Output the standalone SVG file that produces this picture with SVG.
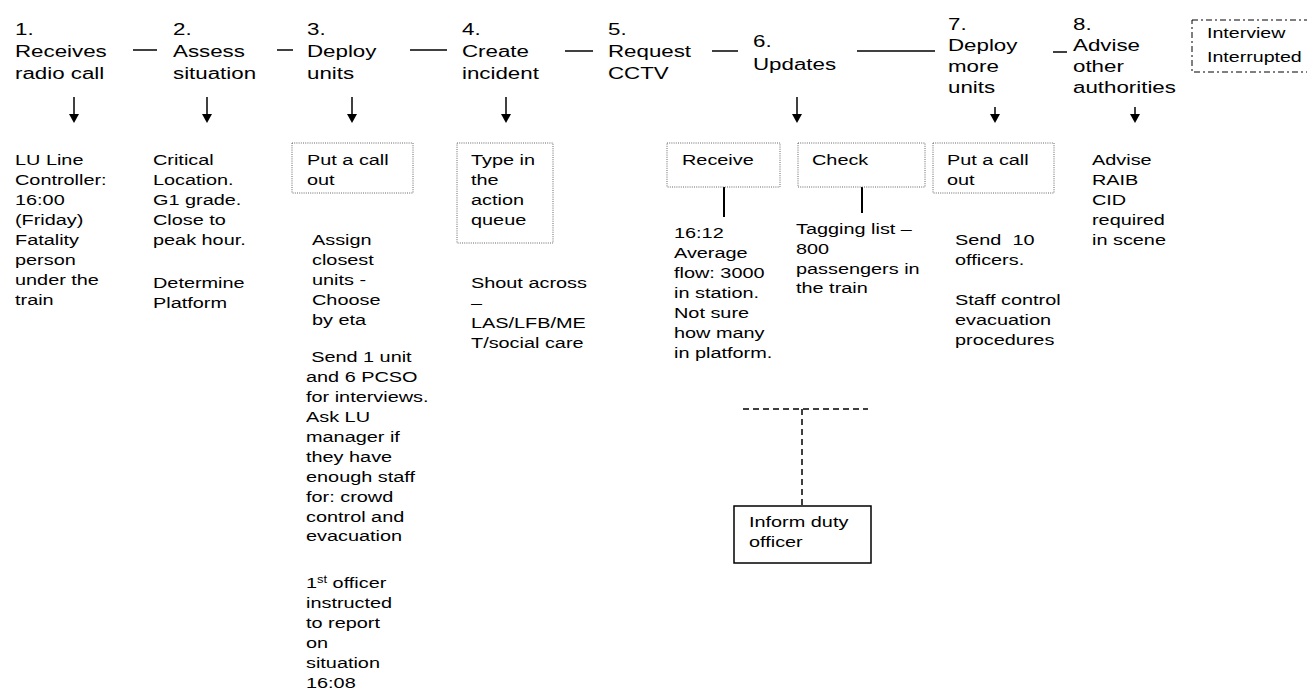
<svg xmlns="http://www.w3.org/2000/svg" width="1307" height="695" viewBox="0 0 1307 695">
<style>
text{font-family:"Liberation Sans",Arial,sans-serif;fill:#000}
.h{font-size:17.3px}
.b{font-size:15.4px}
.s{font-size:15.2px}
.dot{fill:none;stroke:#666;stroke-width:1;stroke-dasharray:1 1.2}
.con{stroke:#000;stroke-width:1.5;fill:none}
.dash{stroke:#000;stroke-width:1.5;fill:none;stroke-dasharray:6 4}
</style>
<rect width="1307" height="695" fill="#fff"/>

<g id="connectors">
<line class="con" x1="133" y1="50" x2="157" y2="50"/>
<line class="con" x1="277" y1="50" x2="293" y2="50"/>
<line class="con" x1="410" y1="50" x2="447" y2="50"/>
<line class="con" x1="565" y1="51" x2="593" y2="51"/>
<line class="con" x1="712" y1="51" x2="738" y2="51"/>
<line class="con" x1="857" y1="51" x2="935" y2="51"/>
<line class="con" x1="1053" y1="52" x2="1067" y2="52"/>
<g stroke="#000" stroke-width="1.5">
<line x1="74" y1="97" x2="74" y2="115"/>
<line x1="207" y1="97" x2="207" y2="115"/>
<line x1="352" y1="97" x2="352" y2="115"/>
<line x1="506" y1="97" x2="506" y2="115"/>
<line x1="797" y1="97" x2="797" y2="115"/>
<line x1="995" y1="107" x2="995" y2="115"/>
<line x1="1135" y1="107" x2="1135" y2="115"/>
</g>
<g fill="#000">
<path d="M69,114 L79,114 L74,123 Z"/>
<path d="M202,114 L212,114 L207,123 Z"/>
<path d="M347,114 L357,114 L352,123 Z"/>
<path d="M501,114 L511,114 L506,123 Z"/>
<path d="M792,114 L802,114 L797,123 Z"/>
<path d="M990,114 L1000,114 L995,123 Z"/>
<path d="M1130,114 L1140,114 L1135,123 Z"/>
</g>
<line x1="724" y1="187" x2="724" y2="217" stroke="#000" stroke-width="2"/>
<line x1="862" y1="187" x2="862" y2="213" stroke="#000" stroke-width="2"/>
<path class="dash" d="M743,409 H868 M802,409 V506"/>
</g>

<g id="n1">
<text class="h" transform="translate(15,0) scale(1.29,1)"><tspan x="0" y="35">1.</tspan><tspan x="0" y="57">Receives</tspan><tspan x="0" y="79">radio call</tspan></text>
<text class="b" transform="translate(15,0) scale(1.29,1)"><tspan x="0" y="165">LU Line</tspan><tspan x="0" y="185">Controller:</tspan><tspan x="0" y="205">16:00</tspan><tspan x="0" y="225">(Friday)</tspan><tspan x="0" y="245">Fatality</tspan><tspan x="0" y="265">person</tspan><tspan x="0" y="285">under the</tspan><tspan x="0" y="305">train</tspan></text>
</g>

<g id="n2">
<text class="h" transform="translate(173,0) scale(1.29,1)"><tspan x="0" y="35">2.</tspan><tspan x="0" y="57">Assess</tspan><tspan x="0" y="79">situation</tspan></text>
<text class="b" transform="translate(153,0) scale(1.29,1)"><tspan x="0" y="165">Critical</tspan><tspan x="0" y="185">Location.</tspan><tspan x="0" y="205">G1 grade.</tspan><tspan x="0" y="225">Close to</tspan><tspan x="0" y="245">peak hour.</tspan><tspan x="0" y="288">Determine</tspan><tspan x="0" y="308">Platform</tspan></text>
</g>

<g id="n3">
<text class="h" transform="translate(307,0) scale(1.29,1)"><tspan x="0" y="35">3.</tspan><tspan x="0" y="57">Deploy</tspan><tspan x="0" y="79">units</tspan></text>
<rect class="dot" x="292" y="143" width="121" height="50"/>
<text class="b" transform="translate(307,0) scale(1.29,1)"><tspan x="0" y="165">Put a call</tspan><tspan x="0" y="185">out</tspan></text>
<text class="b" transform="translate(312,0) scale(1.29,1)"><tspan x="0" y="245">Assign</tspan><tspan x="0" y="265">closest</tspan><tspan x="0" y="285">units -</tspan><tspan x="0" y="305">Choose</tspan><tspan x="0" y="325">by eta</tspan></text>
<text class="b" transform="translate(306,0) scale(1.29,1)"><tspan x="4" y="362">Send 1 unit</tspan><tspan x="0" y="382">and 6 PCSO</tspan><tspan x="0" y="402">for interviews.</tspan><tspan x="0" y="422">Ask LU</tspan><tspan x="0" y="442">manager if</tspan><tspan x="0" y="462">they have</tspan><tspan x="0" y="482">enough staff</tspan><tspan x="0" y="502">for: crowd</tspan><tspan x="0" y="522">control and</tspan><tspan x="0" y="541">evacuation</tspan></text>
<text class="b" transform="translate(306,0) scale(1.29,1)"><tspan x="0" y="588">1</tspan><tspan dy="-5" font-size="10">st</tspan><tspan dy="5"> officer</tspan><tspan x="0" y="608">instructed</tspan><tspan x="0" y="628">to report</tspan><tspan x="0" y="648">on</tspan><tspan x="0" y="668">situation</tspan><tspan x="0" y="688">16:08</tspan></text>
</g>

<g id="n4">
<text class="h" transform="translate(462,0) scale(1.29,1)"><tspan x="0" y="35">4.</tspan><tspan x="0" y="57">Create</tspan><tspan x="0" y="79">incident</tspan></text>
<rect class="dot" x="457" y="143" width="96" height="100"/>
<text class="b" transform="translate(471,0) scale(1.29,1)"><tspan x="0" y="165">Type in</tspan><tspan x="0" y="185">the</tspan><tspan x="0" y="205">action</tspan><tspan x="0" y="225">queue</tspan></text>
<text class="b" transform="translate(471,0) scale(1.29,1)"><tspan x="0" y="288">Shout across</tspan><tspan x="0" y="308">–</tspan><tspan x="0" y="328">LAS/LFB/ME</tspan><tspan x="0" y="348">T/social care</tspan></text>
</g>

<g id="n5">
<text class="h" transform="translate(608,0) scale(1.29,1)"><tspan x="0" y="35">5.</tspan><tspan x="0" y="57">Request</tspan><tspan x="0" y="79">CCTV</tspan></text>
</g>

<g id="n6">
<text class="h" transform="translate(753,0) scale(1.29,1)"><tspan x="0" y="47">6.</tspan><tspan x="0" y="70">Updates</tspan></text>
<rect class="dot" x="667" y="143" width="113" height="44"/>
<text class="b" transform="translate(682,0) scale(1.29,1)"><tspan x="0" y="165">Receive</tspan></text>
<rect class="dot" x="798" y="143" width="127" height="44"/>
<text class="b" transform="translate(812,0) scale(1.29,1)"><tspan x="0" y="165">Check</tspan></text>
<text class="b" transform="translate(674,0) scale(1.29,1)"><tspan x="0" y="238">16:12</tspan><tspan x="0" y="258">Average</tspan><tspan x="0" y="278">flow: 3000</tspan><tspan x="0" y="298">in station.</tspan><tspan x="0" y="318">Not sure</tspan><tspan x="0" y="338">how many</tspan><tspan x="0" y="358">in platform.</tspan></text>
<text class="b" transform="translate(796,0) scale(1.29,1)"><tspan x="0" y="234">Tagging list –</tspan><tspan x="0" y="254">800</tspan><tspan x="0" y="274">passengers in</tspan><tspan x="0" y="293">the train</tspan></text>
</g>

<g id="n7">
<text class="h" transform="translate(948,0) scale(1.29,1)"><tspan x="0" y="30">7.</tspan><tspan x="0" y="51">Deploy</tspan><tspan x="0" y="72">more</tspan><tspan x="0" y="93">units</tspan></text>
<rect class="dot" x="933" y="143" width="121" height="50"/>
<text class="b" transform="translate(947,0) scale(1.29,1)"><tspan x="0" y="165">Put a call</tspan><tspan x="0" y="185">out</tspan></text>
<text class="b" transform="translate(955,0) scale(1.29,1)"><tspan x="0" y="245">Send&#160; 10</tspan><tspan x="0" y="265">officers.</tspan><tspan x="0" y="305">Staff control</tspan><tspan x="0" y="325">evacuation</tspan><tspan x="0" y="345">procedures</tspan></text>
</g>

<g id="n8">
<text class="h" transform="translate(1073,0) scale(1.29,1)"><tspan x="0" y="30">8.</tspan><tspan x="0" y="51">Advise</tspan><tspan x="0" y="72">other</tspan><tspan x="0" y="93">authorities</tspan></text>
<text class="b" transform="translate(1092,0) scale(1.29,1)"><tspan x="0" y="165">Advise</tspan><tspan x="0" y="185">RAIB</tspan><tspan x="0" y="205">CID</tspan><tspan x="0" y="225">required</tspan><tspan x="0" y="245">in scene</tspan></text>
</g>

<g id="interrupted">
<rect x="1192" y="20" width="125" height="52" fill="none" stroke="#000" stroke-width="1" stroke-dasharray="6 3 2 3"/>
<text class="s" transform="translate(1207,0) scale(1.29,1)"><tspan x="0" y="38">Interview</tspan><tspan x="0" y="62">Interrupted</tspan></text>
</g>

<g id="inform">
<rect x="734" y="506" width="137" height="57" fill="#fff" stroke="#000" stroke-width="1.5"/>
<text class="b" transform="translate(749,0) scale(1.29,1)"><tspan x="0" y="527">Inform duty</tspan><tspan x="0" y="547">officer</tspan></text>
</g>
</svg>
